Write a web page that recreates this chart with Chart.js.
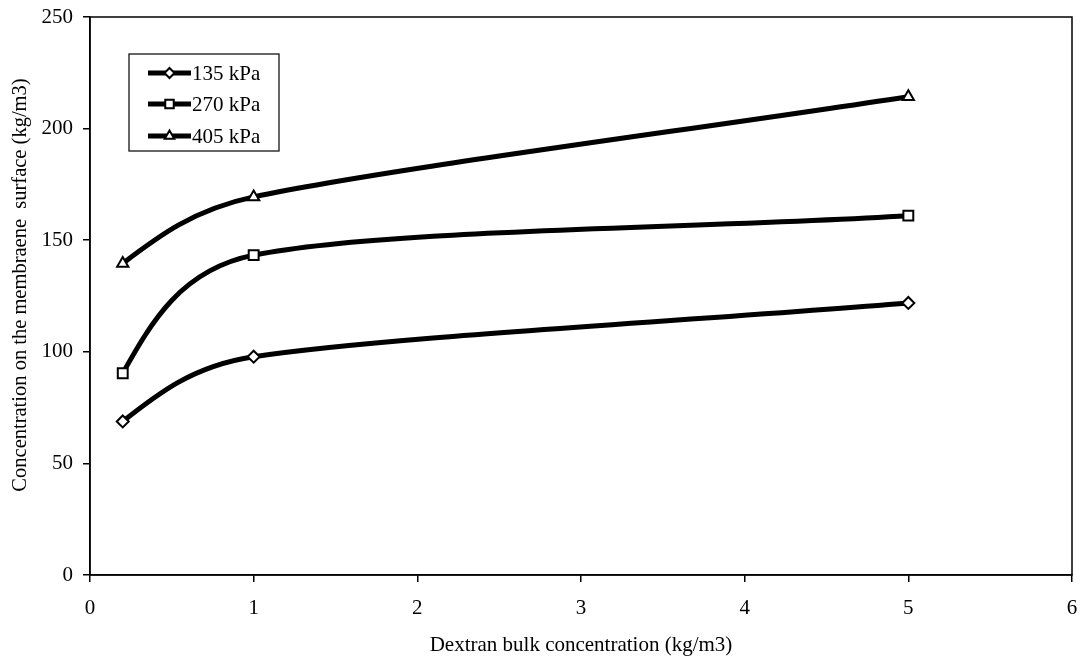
<!DOCTYPE html>
<html>
<head>
<meta charset="utf-8">
<script src="https://cdn.jsdelivr.net/npm/chart.js@4/dist/chart.umd.min.js"></script>
<style>
html,body{margin:0;padding:0;background:#fff;}
#wrap{width:1081px;height:658px;position:relative;}
</style>
</head>
<body>
<div id="wrap"><canvas id="c" width="1081" height="658"></canvas></div>
<script>
const xValues = [0.2, 1, 5];
const series135 = [68.8, 97.8, 121.9];
const series270 = [90.4, 143.3, 161.0];
const series405 = [139.6, 169.4, 214.3];
const seriesLabels = ['135 kPa', '270 kPa', '405 kPa'];
const seriesMarkers = ['rectRot', 'rect', 'triangle'];
const xTitle = 'Dextran bulk concentration (kg/m3)';
const yTitle = 'Concentration on the membraene  surface (kg/m3)';

const FONT = '"Liberation Serif", "Times New Roman", serif';
const FS = 21;

function pts(ys){ return xValues.map((x,i)=>({x:x,y:ys[i]})); }

const markerRadius = {rectRot:6, rect:7, triangle:6.5};

const datasets = [series135, series270, series405].map((s,i)=>({
  label: seriesLabels[i],
  data: pts(s),
  borderColor: '#000',
  borderWidth: 5,
  tension: 0.4,
  pointStyle: seriesMarkers[i],
  pointRadius: markerRadius[seriesMarkers[i]],
  pointBackgroundColor: '#fff',
  pointBorderColor: '#000',
  pointBorderWidth: 2,
  fill: false
}));

// Excel-style smoothing: recompute Bezier control points from the pixel positions
const excelSmooth = {
  id: 'excelSmooth',
  beforeDatasetsDraw(chart){
    chart.data.datasets.forEach((ds, di) => {
      const meta = chart.getDatasetMeta(di);
      const p = meta.dataset.points;
      const n = p.length;
      if (n < 3) return;
      const dist = (a,b) => Math.hypot(b.x-a.x, b.y-a.y);
      for (let i = 1; i < n - 1; i++) {
        const cur = p[i];
        const dx = (p[i+1].x - p[i-1].x) / 6, dy = (p[i+1].y - p[i-1].y) / 6;
        const arm = Math.hypot(dx, dy);
        const sl = Math.min(1, 0.42 * dist(p[i-1], cur) / arm);
        const sr = Math.min(1, 0.42 * dist(cur, p[i+1]) / arm);
        cur.cp1x = cur.x - dx * sl; cur.cp1y = cur.y - dy * sl;
        cur.cp2x = cur.x + dx * sr; cur.cp2y = cur.y + dy * sr;
      }
      const a = p[0], b = p[1];
      a.cp1x = a.x; a.cp1y = a.y;
      a.cp2x = (a.x + b.cp1x) / 2; a.cp2y = (a.y + b.cp1y) / 2;
      const z = p[n-1], y = p[n-2];
      z.cp1x = z.x - (z.x - y.x) / 3; z.cp1y = z.y - (z.y - y.y) / 3;
      z.cp2x = z.x; z.cp2y = z.y;
    });
  }
};

const frame = {
  id: 'frame',
  afterDraw(chart){
    const {ctx, chartArea:a} = chart;
    ctx.save();
    ctx.strokeStyle = '#000';
    ctx.lineWidth = 1.5;
    ctx.strokeRect(a.left, a.top, a.right - a.left, a.bottom - a.top);
    ctx.translate(21, 285);
    ctx.rotate(-Math.PI / 2);
    ctx.fillStyle = '#000';
    ctx.font = '20.5px ' + FONT;
    ctx.textAlign = 'center';
    ctx.textBaseline = 'middle';
    ctx.fillText(yTitle, 0, 0);
    ctx.restore();
  }
};

const boxLegend = {
  id: 'boxLegend',
  afterDraw(chart){
    const ctx = chart.ctx;
    const bx = 129, by = 54, bw = 150, bh = 97;
    ctx.save();
    ctx.fillStyle = '#fff';
    ctx.fillRect(bx, by, bw, bh);
    ctx.strokeStyle = '#000';
    ctx.lineWidth = 1.2;
    ctx.strokeRect(bx, by, bw, bh);
    const rows = [73, 104, 136];
    chart.data.datasets.forEach((ds, i) => {
      const y = rows[i];
      ctx.strokeStyle = '#000';
      ctx.lineWidth = 5;
      ctx.lineCap = 'butt';
      ctx.beginPath();
      ctx.moveTo(148, y);
      ctx.lineTo(191, y);
      ctx.stroke();
      ctx.fillStyle = '#fff';
      ctx.strokeStyle = '#000';
      ctx.lineWidth = 2;
      Chart.helpers.drawPoint(ctx, {
        pointStyle: ds.pointStyle,
        radius: ds.pointRadius - 1,
        rotation: 0,
        borderWidth: 2
      }, 169.5, y);
      ctx.fillStyle = '#000';
      ctx.font = FS + 'px ' + FONT;
      ctx.textBaseline = 'middle';
      ctx.textAlign = 'left';
      ctx.fillText(ds.label, 192, y + 1);
    });
    ctx.restore();
  }
};

new Chart(document.getElementById('c'), {
  type: 'line',
  data: { datasets: datasets },
  options: {
    responsive: false,
    animation: false,
    layout: { padding: { top: 17, right: 7, left: 0, bottom: 0 } },
    plugins: { legend: { display: false }, tooltip: { enabled: false } },
    scales: {
      x: {
        type: 'linear',
        min: 0, max: 6,
        ticks: { stepSize: 1, color: '#000', font: { family: FONT, size: FS }, padding: 14, maxRotation: 0 },
        grid: { display: true, drawOnChartArea: false, tickLength: 7, color: '#000', lineWidth: 1.5 },
        border: { display: true, color: '#000', width: 1.5 },
        title: { display: true, text: xTitle, color: '#000', font: { family: FONT, size: FS }, padding: { top: 6, bottom: 0 } },
        afterFit(scale){ scale.height = 83; scale.paddingLeft = 0; scale.paddingRight = 0; }
      },
      y: {
        min: 0, max: 250,
        ticks: { stepSize: 50, color: '#000', font: { family: FONT, size: FS }, padding: 10 },
        grid: { display: true, drawOnChartArea: false, tickLength: 7, color: '#000', lineWidth: 1.5 },
        border: { display: true, color: '#000', width: 1.5 },
        title: { display: false },
        afterFit(scale){ scale.width = 90; scale.paddingTop = 0; scale.paddingBottom = 0; }
      }
    }
  },
  plugins: [excelSmooth, frame, boxLegend]
});
</script>
</body>
</html>
